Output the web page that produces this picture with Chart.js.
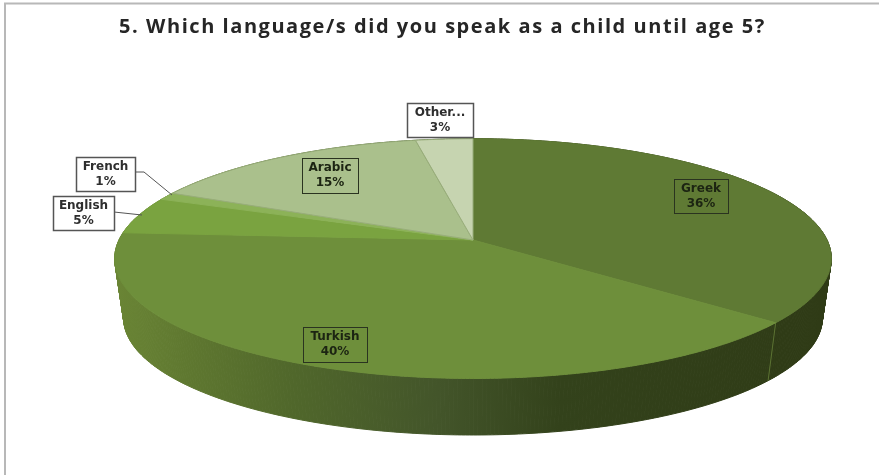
<!DOCTYPE html>
<html>
<head>
<meta charset="utf-8">
<title>Childhood languages</title>
<script src="https://cdn.jsdelivr.net/npm/chart.js@4/dist/chart.umd.min.js"></script>
<style>
    html, body { margin: 0; padding: 0; background: #fff; }
    canvas { display: block; }
</style>
</head>
<body>
<canvas id="languageChart" width="879" height="475"></canvas>
<script>
'use strict';

const languages = ['Greek', 'Turkish', 'English', 'French', 'Arabic', 'Other...'];
const shares = [36, 40, 5, 1, 15, 3];
const titleText = '5. Which language/s did you speak as a child until age 5?';

const sliceColors = ['#5f7a34', '#6e8f3b', '#7aa340', '#8cb258', '#aac08c', '#c6d4b0'];
const sliceEdges = ['#5f7a34', '#6e8f3b', '#7aa340', '#8cb258', '#98ad7a', '#98ad7a'];

// Tilted disc: centre of the slices, radii and perspective strength
const disc = { cx: 473, cy: 240, rx: 354, ry: 117, persp: 0.155 };
// Underside of the disc, a bit narrower and pushed down
const base = { scale: 0.975, drop: 60 };

// Label boxes: [left, top, right, bottom]
const labelBoxes = [
    [674, 179, 728, 213],
    [303, 327, 367, 362],
    [53, 196, 114, 230],
    [76, 157, 135, 191],
    [302, 158, 358, 193],
    [407, 103, 473, 137]
];
const boxFilled = [true, true, false, false, true, false];
const leaderLines = {
    2: [[114, 212], [142, 215]],
    3: [[135, 172], [144, 172], [172, 195]]
};

function project(angle, lower) {
    const u = Math.cos(angle);
    const v = Math.sin(angle);
    const w = 1 - disc.persp * v;
    const s = lower ? base.scale : 1;
    return {
        x: disc.cx + s * disc.rx * u / w,
        y: disc.cy + (lower ? base.drop : 0) + s * disc.ry * v / w
    };
}

function traceRim(ctx, from, to) {
    const steps = Math.max(2, Math.ceil(Math.abs(to - from) / 0.01));
    for (let i = 0; i <= steps; i++) {
        const p = project(from + (to - from) * i / steps, false);
        ctx.lineTo(p.x, p.y);
    }
}

function wallGradient(ctx, index) {
    const g = ctx.createLinearGradient(115, 0, 832, 0);
    if (index === 0) {
        g.addColorStop(0, '#2f3b16');
        g.addColorStop(1, '#2f3b16');
        return g;
    }
    g.addColorStop(0, '#6a8535');
    g.addColorStop(0.1, '#5f7830');
    g.addColorStop(0.25, '#50672b');
    g.addColorStop(0.45, '#43552a');
    g.addColorStop(0.62, '#33421b');
    g.addColorStop(1, '#2f3b16');
    return g;
}

// The wall is swept in small quads so the sides close up at the silhouette
function drawWall(ctx, arc, index) {
    const from = arc.startAngle;
    const to = arc.endAngle;
    const steps = Math.max(2, Math.ceil((to - from) / 0.01));
    const paint = wallGradient(ctx, index);
    ctx.fillStyle = paint;
    ctx.strokeStyle = paint;
    ctx.lineWidth = 1;
    for (let i = 0; i < steps; i++) {
        const a = from + (to - from) * i / steps;
        const b = from + (to - from) * (i + 1) / steps;
        const corners = [project(a, false), project(b, false), project(b, true), project(a, true)];
        ctx.beginPath();
        corners.forEach(p => ctx.lineTo(p.x, p.y));
        ctx.closePath();
        ctx.fill();
        ctx.stroke();
    }
}

const tiltedPie = {
    id: 'tiltedPie',
    beforeDraw(chart) {
        // Thin frame along the top and left edges
        const ctx = chart.ctx;
        ctx.save();
        ctx.strokeStyle = '#b8b8b8';
        ctx.lineWidth = 2;
        ctx.beginPath();
        ctx.moveTo(879, 3.5);
        ctx.lineTo(5, 3.5);
        ctx.lineTo(5, 475);
        ctx.stroke();
        ctx.restore();
        // Wider tracking for the title, which draws right after this hook
        ctx.letterSpacing = '1.55px';
    },
    beforeDatasetDraw(chart) {
        const ctx = chart.ctx;
        const arcs = chart.getDatasetMeta(0).data;
        ctx.letterSpacing = '0px';
        ctx.save();

        // Side wall first, the top surface covers its hidden part
        arcs.forEach((arc, i) => drawWall(ctx, arc, i));

        // Seam on the wall where Greek meets Turkish
        const seamTop = project(arcs[0].endAngle, false);
        const seamBottom = project(arcs[0].endAngle, true);
        ctx.strokeStyle = '#5b7232';
        ctx.lineWidth = 1;
        ctx.beginPath();
        ctx.moveTo(seamTop.x, seamTop.y);
        ctx.lineTo(seamBottom.x, seamBottom.y);
        ctx.stroke();

        // Top surface
        arcs.forEach(arc => {
            ctx.beginPath();
            ctx.moveTo(disc.cx, disc.cy);
            traceRim(ctx, arc.startAngle, arc.endAngle);
            ctx.closePath();
            ctx.fillStyle = arc.options.backgroundColor;
            ctx.strokeStyle = arc.options.borderColor;
            ctx.lineWidth = 1;
            ctx.fill();
            ctx.stroke();
        });

        ctx.restore();
        return false;
    },
    afterDraw(chart) {
        const ctx = chart.ctx;
        ctx.save();
        ctx.textAlign = 'center';
        ctx.textBaseline = 'middle';

        Object.values(leaderLines).forEach(points => {
            ctx.strokeStyle = '#555';
            ctx.lineWidth = 1;
            ctx.beginPath();
            points.forEach(p => ctx.lineTo(p[0], p[1]));
            ctx.stroke();
        });

        labelBoxes.forEach((box, i) => {
            const w = box[2] - box[0];
            const h = box[3] - box[1];
            if (!boxFilled[i]) {
                ctx.fillStyle = '#fff';
                ctx.fillRect(box[0], box[1], w, h);
            }
            ctx.strokeStyle = boxFilled[i] ? '#2a3320' : '#555';
            ctx.lineWidth = boxFilled[i] ? 1 : 1.5;
            ctx.strokeRect(box[0] + 0.5, box[1] + 0.5, w, h);

            const mid = box[0] + w / 2;
            ctx.fillStyle = boxFilled[i] ? '#1c2412' : '#2e2e2e';
            ctx.font = 'bold 12px "DejaVu Sans"';
            ctx.fillText(languages[i], mid, box[1] + h * 0.28);
            ctx.fillText(shares[i] + '%', mid, box[1] + h * 0.72);
        });

        ctx.restore();
    }
};

new Chart(document.getElementById('languageChart').getContext('2d'), {
    type: 'pie',
    data: {
        labels: languages,
        datasets: [{
            data: shares,
            backgroundColor: sliceColors,
            borderColor: sliceEdges
        }]
    },
    options: {
        responsive: false,
        animation: false,
        layout: { padding: { left: 6 } },
        plugins: {
            legend: { display: false },
            tooltip: { enabled: false },
            title: {
                display: true,
                text: titleText,
                color: '#262626',
                font: { family: '"Open Sans"', size: 20, weight: 'bold' },
                padding: { top: 15, bottom: 10 }
            }
        }
    },
    plugins: [tiltedPie]
});
</script>
</body>
</html>
